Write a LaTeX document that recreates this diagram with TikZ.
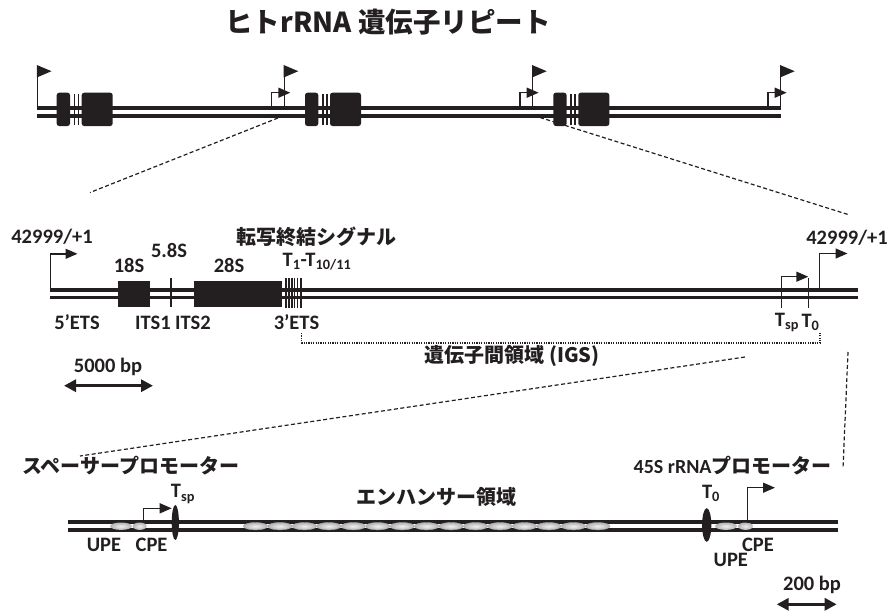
\documentclass[tikz,border=0pt]{standalone}
\usepackage{fontspec}
\setmainfont{Carlito}
\newfontfamily\jp{Noto Sans CJK JP}
\usetikzlibrary{arrows.meta}
\definecolor{ink}{RGB}{35,31,32}
\begin{document}
\begin{tikzpicture}[x=1pt,y=-1pt,
  strand/.style={line width=3.8pt, draw=ink},
  gene/.style={fill=ink, rounded corners=2.5pt},
  tick/.style={line width=1.5pt, draw=ink},
  bent/.style={line width=1.4pt, draw=ink, -{Triangle[length=12pt,width=10pt]}},
  scalebar/.style={line width=3.5pt, draw=ink, {Triangle[length=12pt,width=12pt]}-{Triangle[length=12pt,width=12pt]}},
  zoomline/.style={line width=1.2pt, draw=ink, dash pattern=on 4pt off 2.5pt},
  lab/.style={font=\fontsize{20.5}{24}\selectfont\bfseries, text=ink, inner sep=0pt},
  jlab/.style={font=\jp\bfseries\fontsize{20}{24}\selectfont, text=ink, inner sep=0pt},
  elem/.style={inner color=gray!12, outer color=gray!60},
]
\useasboundingbox (0,0) rectangle (890,615);

% ---------- title
\node[jlab, font=\jp\bfseries\fontsize{27.5}{31}\selectfont] (title) at (388,22) {ヒトrRNA 遺伝子リピート};

% ---------- top row: repeats
\draw[strand] (36.7,108.3) -- (780.7,108.3);
\draw[strand] (36.7,115.6) -- (780.7,115.6);
\foreach \i in {0,1,2} {
  \begin{scope}[xshift={\i*248.3pt}]
    \fill[gene] (56.7,92.7) rectangle (70,126);
    \draw[tick] (74.5,94) -- (74.5,124.5);
    \draw[tick] (78.6,94) -- (78.6,124.5);
    \fill[gene] (81.7,92.7) rectangle (112.7,126);
  \end{scope}
}
% tall flags
\foreach \x in {37.5,284.3,532.7,780.7} {
  \draw[line width=1.4pt, draw=ink] (\x,107) -- (\x,66);
  \fill[ink] (\x-0.7,65) -- (\x-0.7,77.5) -- (\x+14,71.2) -- cycle;
}
% small bent arrows
\foreach \x in {284.3,532.7,780.7} {
  \draw[bent] (\x-12.6,107) -- (\x-12.6,92.7) -- (\x+6,92.7);
}
\coordinate (zaL) at (278,118);
\coordinate (zaR) at (540,117.5);

% ---------- middle row
\draw[strand] (50,289.8) -- (858,289.8);
\draw[strand] (50,297.5) -- (858,297.5);
\fill[ink] (118,281) rectangle (150,307);
\draw[line width=1.7pt, draw=ink] (170.7,278) -- (170.7,307);
\fill[ink] (194,281) rectangle (281.7,307);
\foreach \x in {285,286.5,288,289.5,291,292.5,294} {
  \draw[line width=0.7pt, draw=ink] (\x,278.3) -- (\x,308.3);
}
\draw[line width=1.4pt, draw=ink] (297.5,278.3) -- (297.5,308.3);
\draw[line width=2.4pt, draw=ink] (301.2,278.3) -- (301.2,308.3);

\coordinate (zbL) at (90,192.5);
\coordinate (zbR) at (848,214.5);

\draw[bent] (50.7,288) -- (50.7,253.8) -- (77.5,253.8);
\draw[bent] (819.3,288) -- (819.3,253.5) -- (847.5,253.5);
\draw[bent] (781.7,288) -- (781.7,276.7) -- (808.3,276.7);
\draw[line width=1.2pt, draw=ink] (781.7,276.7) -- (781.7,308.3);
\draw[line width=1.2pt, draw=ink] (808.3,278.3) -- (808.3,308.3);

\node[lab] (p1) at (52,236.5) {42999/+1};
\node[lab] (p2) at (847,238) {42999/+1};
\node[lab] (s18) at (129,265) {18S};
\node[lab] (s58) at (169,250) {5.8S};
\node[lab] (s28) at (229,265) {28S};
\node[jlab] (term) at (316,236.5) {転写終結シグナル};
\node[lab] (tt) at (317,262) {T\textsubscript{1}-T\textsubscript{10/11}};
\node[lab] (ets5) at (77,322.5) {5’ETS};
\node[lab] (its1) at (153,322.5) {ITS1};
\node[lab] (its2) at (193,322.5) {ITS2};
\node[lab] (ets3) at (296.5,322.5) {3’ETS};
\node[lab] (tsp1) at (787,322.5) {T\textsubscript{sp}};
\node[lab] (t01) at (810.5,322.5) {T\textsubscript{0}};

\draw[line width=1.5pt, draw=ink, dash pattern=on 1.2pt off 1.2pt] (301.5,333) -- (301.5,343) -- (820,343) -- (820,333);
\node[jlab] (igs) at (512,356) {遺伝子間領域 (IGS)};

\node[lab] (kb5) at (108,367) {5000 bp};
\coordinate (k5a) at (64,385.7);
\coordinate (k5b) at (153,385.7);
\draw[scalebar] (k5a) -- (k5b);

\coordinate (zcL) at (745,357);
\coordinate (zcR) at (848,352);

% ---------- bottom row
\draw[strand] (68.3,522) -- (837.7,522);
\draw[strand] (68.3,530.3) -- (837.7,530.3);
\coordinate (zdL) at (80,456);
\coordinate (zdR) at (843,468);

\foreach \i in {0,...,14} {
  \shade[elem] ({255.5+24.45*\i},526.2) ellipse [x radius=12.2pt, y radius=3.7pt];
  \draw[line width=0.4pt, draw=gray!70] ({255.5+24.45*\i},526.2) ellipse [x radius=12.2pt, y radius=3.7pt];
}
\shade[elem] (121,526.2) ellipse [x radius=11pt, y radius=3.7pt];
\shade[elem] (139.7,526.2) ellipse [x radius=7pt, y radius=3.7pt];
\shade[elem] (726,526.2) ellipse [x radius=11pt, y radius=3.7pt];
\shade[elem] (745.5,526.2) ellipse [x radius=7.5pt, y radius=3.7pt];
\fill[ink] (175.3,522.5) ellipse [x radius=3.6pt, y radius=17.5pt];
\fill[ink] (706.7,525) ellipse [x radius=4.6pt, y radius=16.8pt];

\draw[bent] (143.3,522.5) -- (143.3,508.3) -- (171.7,508.3);
\draw[bent] (747.7,522.5) -- (747.7,487.7) -- (775,487.7);

\node[jlab] (spp) at (130.5,466) {スペーサープロモーター};
\node[lab, font=\fontsize{20}{24}\selectfont\bfseries] (p45) at (732.6,466) {45S rRNA{\jp\bfseries プロモーター}};
\node[jlab] (enh) at (436.7,496.5) {エンハンサー領域};
\node[lab] (tsp2) at (183,494) {T\textsubscript{sp}};
\node[lab] (t02) at (711,493) {T\textsubscript{0}};
\node[lab] (upe1) at (104,545) {UPE};
\node[lab] (cpe1) at (151.6,545) {CPE};
\node[lab] (cpe2) at (758,545) {CPE};
\node[lab] (upe2) at (730.8,560) {UPE};
\node[lab] (b200) at (812,585) {200 bp};
\coordinate (k2a) at (776.7,604.3);
\coordinate (k2b) at (836.7,604.3);
\draw[scalebar] (k2a) -- (k2b);

% ---------- zoom lines
\draw[zoomline] (zaL) -- (zbL);
\draw[zoomline] (zaR) -- (zbR);
\draw[zoomline] (zcL) -- (zdL);
\draw[zoomline] (zcR) -- (zdR);
\end{tikzpicture}
\end{document}
